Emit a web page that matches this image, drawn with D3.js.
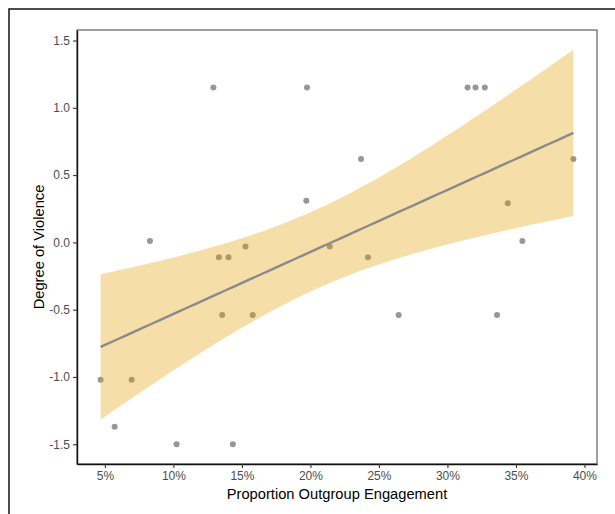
<!DOCTYPE html>
<html>
<head>
<meta charset="utf-8">
<script src="https://cdn.jsdelivr.net/npm/d3@7"></script>
<style>
  html, body { margin: 0; padding: 0; background: #ffffff; }
  svg { display: block; }
  text { font-family: "Liberation Sans", Arial, sans-serif; }
</style>
</head>
<body>
<svg id="chart" width="615" height="514"></svg>
<script>
// ---- data ----
const engagement = [0.0469, 0.0571, 0.0695, 0.0829, 0.1023, 0.1292, 0.1332, 0.1356, 0.1402, 0.1434,
                    0.1526, 0.1579, 0.1970, 0.1975, 0.2141, 0.2369, 0.2420, 0.2644, 0.3147, 0.3205,
                    0.3273, 0.3362, 0.3440, 0.3547, 0.3919];
const violence   = [-1.02, -1.37, -1.02, 0.01, -1.50, 1.15, -0.11, -0.54, -0.11, -1.50,
                    -0.03, -0.54, 0.31, 1.15, -0.03, 0.62, -0.11, -0.54, 1.15, 1.15,
                    1.15, -0.54, 0.29, 0.01, 0.62];
const xTickValues = [0.05, 0.10, 0.15, 0.20, 0.25, 0.30, 0.35, 0.40];
const yTickValues = [-1.5, -1.0, -0.5, 0.0, 0.5, 1.0, 1.5];
const xTitle = "Proportion Outgroup Engagement";
const yTitle = "Degree of Violence";
const tCrit = 2.0687; // t quantile (0.975, df = 23)

// ---- linear model fit with 95% confidence band (as geom_smooth(method = "lm")) ----
const n = engagement.length;
const mx = d3.mean(engagement), my = d3.mean(violence);
let sxx = 0, sxy = 0, syy = 0;
for (let i = 0; i < n; i++) {
  const dx = engagement[i] - mx, dy = violence[i] - my;
  sxx += dx * dx; sxy += dx * dy; syy += dy * dy;
}
const slope = sxy / sxx;
const intercept = my - slope * mx;
const sres = Math.sqrt((syy - slope * sxy) / (n - 2));
const [xmin, xmax] = d3.extent(engagement);
const band = d3.range(80).map(i => {
  const x = xmin + (xmax - xmin) * i / 79;
  const fit = intercept + slope * x;
  const se = sres * Math.sqrt(1 / n + (x - mx) * (x - mx) / sxx);
  return { x, fit, lo: fit - tCrit * se, hi: fit + tCrit * se };
});

// ---- layout ----
const svg = d3.select("#chart");
const P = { left: 77, right: 597, top: 30, bottom: 464 };

// outer frame
svg.append("rect")
  .attr("x", 9).attr("y", 9).attr("width", 640).attr("height", 540)
  .attr("fill", "none").attr("stroke", "#222").attr("stroke-width", 1.6);

const xr = xmax - xmin;
const x = d3.scaleLinear()
  .domain([xmin - 0.05 * xr, xmax + 0.05 * xr])
  .range([P.left, P.right]);
const yLo = Math.min(d3.min(violence), d3.min(band, d => d.lo));
const yHi = Math.max(d3.max(violence), d3.max(band, d => d.hi));
const yr = yHi - yLo;
const y = d3.scaleLinear()
  .domain([yLo - 0.05 * yr, yHi + 0.05 * yr])
  .range([P.bottom, P.top]);

// panel border
svg.append("rect")
  .attr("x", P.left).attr("y", P.top)
  .attr("width", P.right - P.left).attr("height", P.bottom - P.top)
  .attr("fill", "#ffffff").attr("stroke", "#6e6e6e").attr("stroke-width", 1.3);

const panel = svg.append("g");

// points
panel.selectAll("circle")
  .data(engagement.map((e, i) => ({ e, v: violence[i] })))
  .join("circle")
  .attr("cx", d => x(d.e)).attr("cy", d => y(d.v)).attr("r", 3)
  .attr("fill", "#979797");

// ribbon
panel.append("path")
  .datum(band)
  .attr("d", d3.area().x(d => x(d.x)).y0(d => y(d.lo)).y1(d => y(d.hi)))
  .attr("fill", "#E69F00").attr("fill-opacity", 0.34);

// fit line
panel.append("path")
  .datum(band)
  .attr("d", d3.line().x(d => x(d.x)).y(d => y(d.fit)))
  .attr("fill", "none").attr("stroke", "#8a8a8a").attr("stroke-width", 2.4);

// axes
const xAxis = d3.axisBottom(x).tickValues(xTickValues)
  .tickFormat(d3.format(".0%")).tickSize(4).tickSizeOuter(0).tickPadding(3);
const yAxis = d3.axisLeft(y).tickValues(yTickValues)
  .tickFormat(d => d.toFixed(1).replace("\u2212", "-")).tickSize(4).tickSizeOuter(0).tickPadding(3);

const gx = svg.append("g").attr("transform", `translate(0,${P.bottom})`).call(xAxis);
const gy = svg.append("g").attr("transform", `translate(${P.left},0)`).call(yAxis);
[gx, gy].forEach(g => {
  g.select(".domain").attr("stroke", "#111").attr("stroke-width", 1.4);
  g.selectAll(".tick line").attr("stroke", "#333").attr("stroke-width", 1.1);
  g.selectAll(".tick text").attr("fill", "#4d4d4d").style("font-size", "12px")
    .style("font-family", "'Liberation Sans', Arial, sans-serif");
});

// titles
svg.append("text")
  .attr("x", (P.left + P.right) / 2).attr("y", 499)
  .attr("text-anchor", "middle").style("font-size", "14.7px").attr("fill", "#000")
  .text(xTitle);
svg.append("text")
  .attr("transform", `translate(43.5,${(P.top + P.bottom) / 2}) rotate(-90)`)
  .attr("text-anchor", "middle").style("font-size", "14.7px").attr("fill", "#000")
  .text(yTitle);
</script>
</body>
</html>
